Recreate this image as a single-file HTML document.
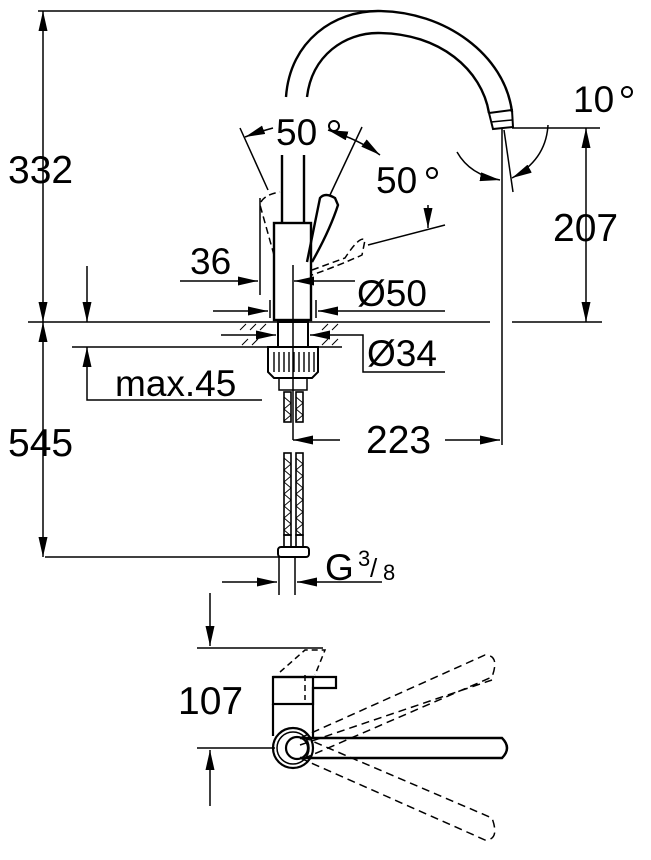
<!DOCTYPE html>
<html><head><style>
body{margin:0;background:#fff}
svg{display:block}
text{font-family:"Liberation Sans",sans-serif;fill:#000}
</style></head><body>
<svg width="651" height="860" viewBox="0 0 651 860" xmlns="http://www.w3.org/2000/svg">
<defs>
<marker id="a" viewBox="0 0 20 9" refX="20" refY="4.5" markerWidth="20" markerHeight="9" markerUnits="userSpaceOnUse" orient="auto-start-reverse"><path d="M0,0L20,4.5L0,9z" fill="#000"/></marker>
</defs>
<g stroke="#000" fill="none" stroke-width="1.5">
<line x1="38" y1="11" x2="378" y2="11"/>
<line x1="28" y1="322" x2="490" y2="322"/>
<line x1="512" y1="322" x2="602" y2="322"/>
<line x1="72" y1="347" x2="342" y2="347"/>
<line x1="45" y1="557" x2="280" y2="557"/>
<line x1="43" y1="11" x2="43" y2="322" marker-start="url(#a)" marker-end="url(#a)"/>
<line x1="43" y1="322" x2="43" y2="557" marker-start="url(#a)" marker-end="url(#a)"/>
<line x1="87" y1="266" x2="87" y2="322" marker-end="url(#a)"/>
<polyline points="262,400 87,400 87,347" marker-end="url(#a)"/>
<path d="M286,97 C290,40 335,11 378,11 C445,11 505,55 512,112" stroke-width="2.4"/>
<path d="M307,97 C312,55 345,33 378,33 C440,33 482,70 489,113" stroke-width="2.4"/>
<path d="M489,113 L512,110 L513,127 L493,129 Z" stroke-width="2"/>
<line x1="491" y1="122" x2="512" y2="120"/>
<line x1="502" y1="128" x2="502" y2="445"/>
<line x1="504" y1="130" x2="513" y2="192"/>
<line x1="512" y1="128" x2="600" y2="128"/>
<path d="M457,152 Q470,175 500,180" marker-end="url(#a)"/>
<path d="M548,125 Q546,160 512,178" marker-end="url(#a)"/>
<line x1="586" y1="128" x2="586" y2="322" marker-start="url(#a)" marker-end="url(#a)"/>
<line x1="340" y1="440" x2="293" y2="440" marker-end="url(#a)"/>
<line x1="445" y1="440" x2="500" y2="440" marker-end="url(#a)"/>
<line x1="282" y1="155" x2="282" y2="223" stroke-width="2.4"/>
<line x1="304" y1="155" x2="304" y2="223" stroke-width="2.4"/>
<rect x="274" y="223" width="37" height="97" stroke-width="2.4"/>
<line x1="293" y1="265" x2="293" y2="440"/>
<path d="M307,262 L320,198 Q325,192 335,198 L338,205 Q330,230 312,262" stroke-width="2.4"/>
<path d="M274,255 L260,205 Q262,195 280,192" stroke-dasharray="7,4"/>
<path d="M312,270 L345,258 Q360,235 365,240 L362,255 Q340,265 312,275" stroke-dasharray="7,4"/>
<line x1="240" y1="128" x2="268" y2="190"/>
<line x1="362" y1="127" x2="330" y2="195"/>
<line x1="368" y1="245" x2="445" y2="225"/>
<path d="M245,137 Q258,132 273,128" marker-start="url(#a)"/>
<path d="M328,130 Q360,140 380,155" marker-start="url(#a)" marker-end="url(#a)"/>
<line x1="428" y1="205" x2="428" y2="228" marker-end="url(#a)"/>
<line x1="260" y1="198" x2="260" y2="295"/>
<line x1="180" y1="281" x2="258" y2="281" marker-end="url(#a)"/>
<line x1="355" y1="281" x2="294" y2="281" marker-end="url(#a)"/>
<line x1="270" y1="300" x2="270" y2="318"/><line x1="316" y1="300" x2="316" y2="318"/>
<line x1="213" y1="311" x2="268" y2="311" marker-end="url(#a)"/>
<line x1="445" y1="311" x2="318" y2="311" marker-end="url(#a)"/>
<path d="M240,330 l6,-6 M250,330 l6,-6 M260,330 l6,-6 M322,330 l6,-6 M332,330 l6,-6 M242,345 l6,-6 M252,345 l6,-6 M322,345 l6,-6 M332,345 l6,-6" stroke-width="1"/>
<rect x="278" y="322" width="30" height="25" stroke-width="2"/>
<line x1="221" y1="335" x2="276" y2="335" marker-end="url(#a)"/>
<polyline points="345,335 310,335" marker-end="url(#a)"/>
<polyline points="345,335 363,335 363,372 445,372"/>
<path d="M268,347 L318,347 L318,372 L312,378 L274,378 L268,372 Z" stroke-width="2"/>
<path d="M274,352 V372 M279,352 V372 M284,352 V372 M289,352 V372 M294,352 V372 M299,352 V372 M304,352 V372 M309,352 V372 M314,352 V372" stroke-width="1.4"/>
<rect x="279" y="378" width="28" height="12" stroke-width="1.5"/>
<g stroke-width="1.6">
<rect x="284" y="392" width="7" height="30"/><rect x="296" y="392" width="7" height="30"/>
<rect x="284" y="453" width="7" height="82"/><rect x="296" y="453" width="7" height="82"/>
<path d="M284,397 l7,6 l-7,6 l7,6 l-7,6 M296,397 l7,6 l-7,6 l7,6 l-7,6" stroke-width="0.9"/>
<path d="M284,458 l7,6 l-7,6 l7,6 l-7,6 l7,6 l-7,6 l7,6 l-7,6 l7,6 l-7,6 l7,6 l-7,6 l7,6 M296,458 l7,6 l-7,6 l7,6 l-7,6 l7,6 l-7,6 l7,6 l-7,6 l7,6 l-7,6 l7,6 l-7,6 l7,6" stroke-width="0.9"/>
<rect x="284" y="535" width="7" height="12"/><rect x="296" y="535" width="7" height="12"/>
<rect x="278" y="547" width="31" height="10" rx="3" stroke-width="2"/>
</g>
<line x1="279" y1="557" x2="279" y2="595"/><line x1="295" y1="557" x2="295" y2="595"/>
<line x1="222" y1="582" x2="277" y2="582" marker-end="url(#a)"/>
<line x1="382" y1="582" x2="297" y2="582" marker-end="url(#a)"/>
<line x1="197" y1="648" x2="323" y2="648"/>
<line x1="197" y1="748" x2="275" y2="748"/>
<line x1="210" y1="593" x2="210" y2="646" marker-end="url(#a)"/>
<line x1="210" y1="806" x2="210" y2="750" marker-end="url(#a)"/>
<path d="M273,677 L336,677 L336,688 L313,688 L313,737" stroke-width="2.2"/>
<rect x="273" y="677" width="40" height="27" stroke-width="2.2"/>
<line x1="273" y1="704" x2="273" y2="736" stroke-width="2.2"/>
<path d="M280,672 L305,650 L325,650 L315,675 M305,675 L305,700" stroke-dasharray="6,4"/>
<circle cx="293" cy="748" r="20" stroke-width="2.2"/>
<circle cx="293" cy="748" r="16"/>
<circle cx="297" cy="748" r="11" stroke-width="2.2"/>
<path d="M300,738 L502,738 Q512,748 502,758 L300,758" stroke-width="2.4"/>
<path d="M300,738 L485,655 Q500,655 492,677 L305,758 M300,745 L492,680" stroke-dasharray="8,5"/>
<path d="M300,758 L485,840 Q500,840 492,818 L305,738" stroke-dasharray="8,5"/>
</g>
<g font-size="39">
<text x="8" y="183">332</text>
<text x="8" y="456">545</text>
<text x="553" y="241">207</text>
<text x="366" y="453">223</text>
<text x="178" y="714">107</text>
</g>
<g font-size="37">
<text x="276" y="145">50</text>
<text x="376" y="193">50</text>
<text x="573" y="112">10</text>
<text x="190" y="274">36</text>
<text x="357" y="306">Ø50</text>
<text x="367" y="366">Ø34</text>
<text x="115" y="396">max.45</text>
<text x="325" y="580">G</text>
<text x="358" y="566" font-size="22">3</text><text x="370" y="577" font-size="26">/</text><text x="383" y="580" font-size="22">8</text>
</g>
<g stroke="#000" stroke-width="2" fill="none">
<circle cx="334" cy="126" r="5"/><circle cx="432" cy="173" r="5"/><circle cx="627" cy="92" r="5"/>
</g>
</svg>
</body></html>
